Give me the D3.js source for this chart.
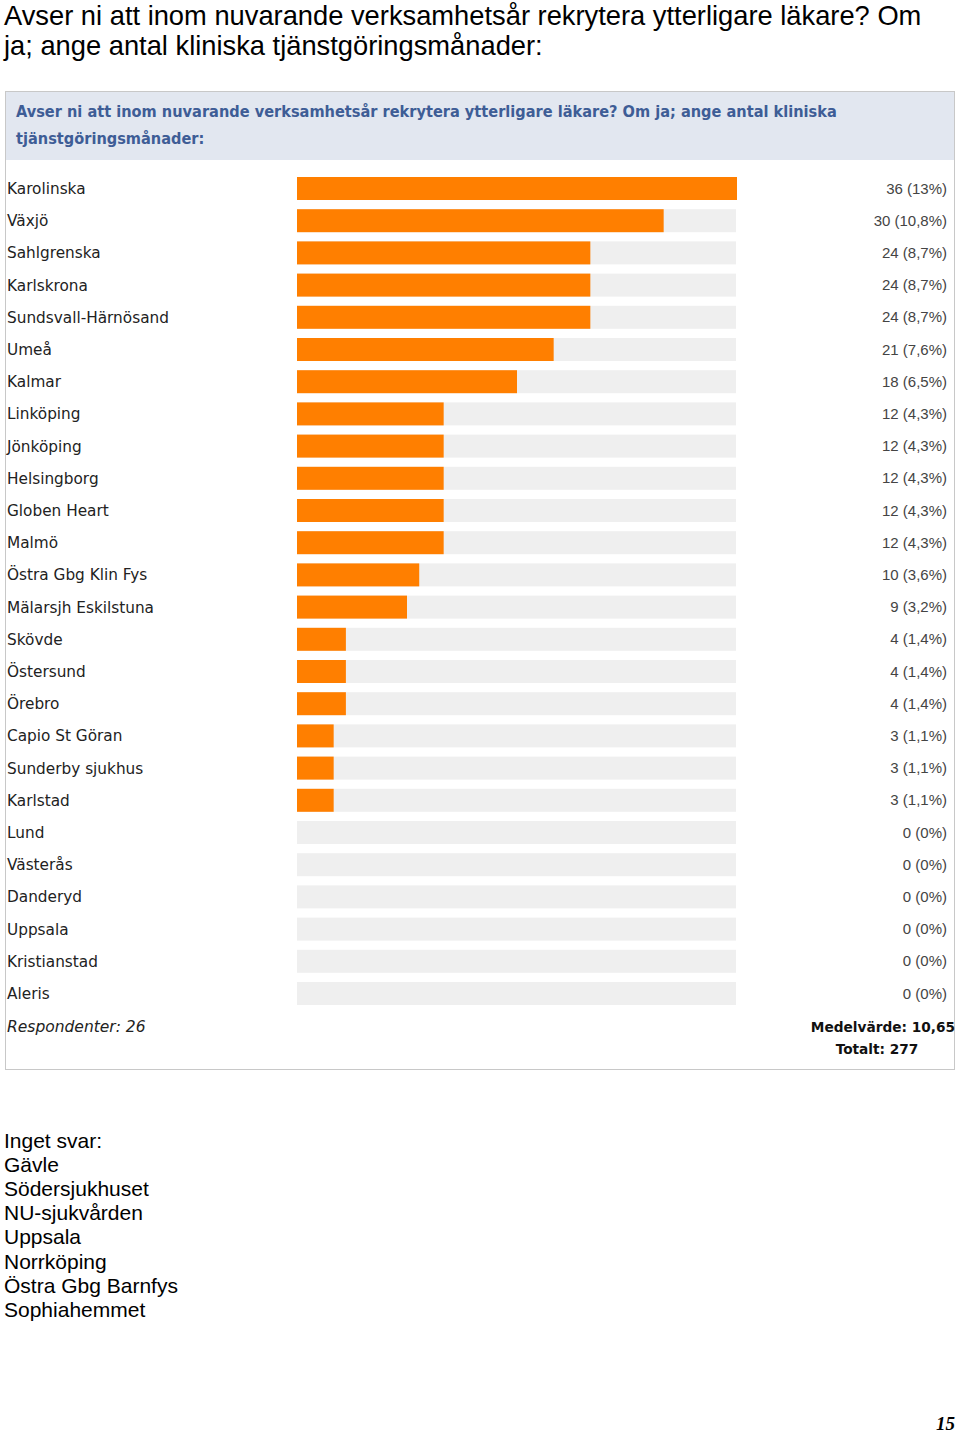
<!DOCTYPE html>
<html><head><meta charset="utf-8">
<script src="https://cdn.jsdelivr.net/npm/d3@7"></script>
<style>html,body{margin:0;padding:0;background:#fff;}svg{display:block;}</style>
</head><body>
<script>
const categories = ["Karolinska","Växjö","Sahlgrenska","Karlskrona","Sundsvall-Härnösand","Umeå","Kalmar","Linköping","Jönköping","Helsingborg","Globen Heart","Malmö","Östra Gbg Klin Fys","Mälarsjh Eskilstuna","Skövde","Östersund","Örebro","Capio St Göran","Sunderby sjukhus","Karlstad","Lund","Västerås","Danderyd","Uppsala","Kristianstad","Aleris"];
const values = [36,30,24,24,24,21,18,12,12,12,12,12,10,9,4,4,4,3,3,3,0,0,0,0,0,0];
const percents = ["13%","10,8%","8,7%","8,7%","8,7%","7,6%","6,5%","4,3%","4,3%","4,3%","4,3%","4,3%","3,6%","3,2%","1,4%","1,4%","1,4%","1,1%","1,1%","1,1%","0%","0%","0%","0%","0%","0%"];
const pageTitle = ["Avser ni att inom nuvarande verksamhetsår rekrytera ytterligare läkare? Om","ja; ange antal kliniska tjänstgöringsmånader:"];
const panelTitle = ["Avser ni att inom nuvarande verksamhetsår rekrytera ytterligare läkare? Om ja; ange antal kliniska","tjänstgöringsmånader:"];
const respondents = 26;
const meanValue = "10,65";
const total = 277;
const noAnswer = ["Inget svar:","Gävle","Södersjukhuset","NU-sjukvården","Uppsala","Norrköping","Östra Gbg Barnfys","Sophiahemmet"];
const pageNumber = "15";

const W = 960, H = 1435;
const svg = d3.select("body").append("svg").attr("width", W).attr("height", H);

// page title
svg.append("g").selectAll("text").data(pageTitle).join("text")
  .attr("x", 4).attr("y", (d,i) => 24.5 + i*30.5)
  .attr("font-family", "Liberation Sans, Arial, sans-serif")
  .attr("font-size", 27.3).attr("fill", "#000").text(d => d);

// panel
svg.append("rect").attr("x", 5.5).attr("y", 91.5).attr("width", 949).attr("height", 978)
  .attr("fill", "#fff").attr("stroke", "#c8c8c8");
svg.append("rect").attr("x", 6).attr("y", 92).attr("width", 948).attr("height", 68).attr("fill", "#e2e7f0");
svg.append("g").selectAll("text").data(panelTitle).join("text")
  .attr("x", 16).attr("y", (d,i) => 117 + i*27)
  .attr("font-family", "DejaVu Sans Condensed, DejaVu Sans, sans-serif")
  .attr("font-weight", "bold").attr("font-size", 16.2).attr("fill", "#3e5d96").text(d => d);

const x = d3.scaleLinear().domain([0, d3.max(values)]).range([297, 737]);
const step = 32.2;
const y = d3.scaleBand().domain(categories).range([172.4, 172.4 + categories.length*step])
  .paddingInner(0.286).paddingOuter(0.143);

const rows = svg.append("g").selectAll("g").data(categories).join("g");
rows.append("rect").attr("x", x(0)).attr("y", d => y(d)).attr("width", 736 - x(0))
  .attr("height", y.bandwidth()).attr("fill", "#efefef");
rows.append("rect").attr("x", x(0)).attr("y", d => y(d))
  .attr("width", (d,i) => x(values[i]) - x(0)).attr("height", y.bandwidth())
  .attr("fill", "#ff7f00");
rows.append("text").attr("x", 7).attr("y", d => y(d) + y.bandwidth()/2 + 5.5)
  .attr("font-family", "DejaVu Sans, sans-serif").attr("font-size", 15.3).attr("fill", "#222")
  .text(d => d);
rows.append("text").attr("x", 947).attr("y", d => y(d) + y.bandwidth()/2 + 5)
  .attr("text-anchor", "end")
  .attr("font-family", "Liberation Sans, Arial, sans-serif").attr("font-size", 15).attr("fill", "#444")
  .text((d,i) => `${values[i]} (${percents[i]})`);

// footer
svg.append("text").attr("x", 7).attr("y", 1032)
  .attr("font-family", "DejaVu Sans, sans-serif").attr("font-style", "italic").attr("font-size", 15.5)
  .attr("fill", "#222").text(`Respondenter: ${respondents}`);
svg.append("text").attr("x", 955).attr("y", 1032).attr("text-anchor", "end")
  .attr("font-family", "DejaVu Sans, sans-serif").attr("font-weight", "bold").attr("font-size", 13.7)
  .attr("fill", "#111").text(`Medelvärde: ${meanValue}`);
svg.append("text").attr("x", 877).attr("y", 1054).attr("text-anchor", "middle")
  .attr("font-family", "DejaVu Sans, sans-serif").attr("font-weight", "bold").attr("font-size", 13.7)
  .attr("fill", "#111").text(`Totalt: ${total}`);

// no answer list
svg.append("g").selectAll("text").data(noAnswer).join("text")
  .attr("x", 4).attr("y", (d,i) => 1148 + i*24.1)
  .attr("font-family", "Liberation Sans, Arial, sans-serif").attr("font-size", 21).attr("fill", "#000")
  .text(d => d);

svg.append("text").attr("x", 955).attr("y", 1430).attr("text-anchor", "end")
  .attr("font-family", "Liberation Serif, Times New Roman, serif").attr("font-weight", "bold")
  .attr("font-style", "italic").attr("font-size", 19).attr("fill", "#000").text(pageNumber);
</script>
</body></html>
